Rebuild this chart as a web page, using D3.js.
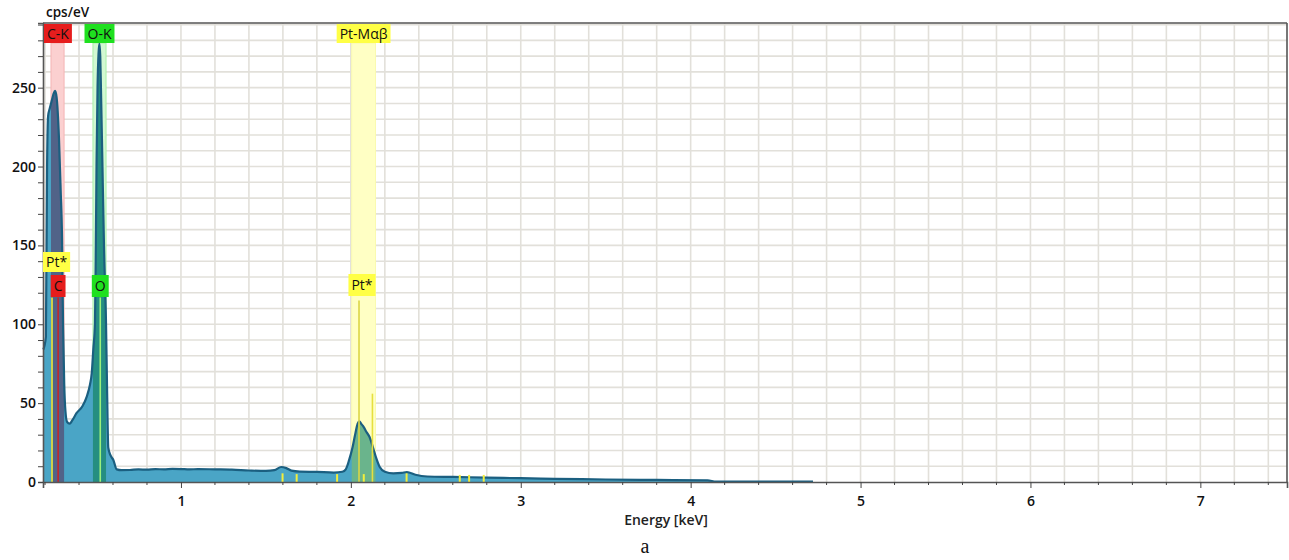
<!DOCTYPE html>
<html>
<head>
<meta charset="utf-8">
<script src="https://cdn.jsdelivr.net/npm/d3@7"></script>
<style>
  body { margin: 0; background: #fff; }
  svg { display: block; font-family: "Open Sans", sans-serif; }
</style>
</head>
<body>
<svg id="chart" width="1289" height="560"></svg>
<script>
// spectrum (keV, cps/eV)
var energy = [0.190, 0.205, 0.212, 0.218, 0.228, 0.240, 0.250, 0.259, 0.268, 0.282, 0.292, 0.300, 0.306, 0.313, 0.320, 0.330, 0.345, 0.360, 0.385, 0.420, 0.445, 0.465, 0.475, 0.484, 0.494, 0.499, 0.503, 0.509, 0.515, 0.520, 0.525, 0.529, 0.538, 0.547, 0.559, 0.565, 0.572, 0.585, 0.602, 0.622, 0.65, 0.70, 0.75, 0.80, 0.85, 0.90, 0.95, 1.00, 1.05, 1.10, 1.20, 1.30, 1.40, 1.50, 1.55, 1.59, 1.62, 1.65, 1.70, 1.80, 1.90, 1.95, 1.97, 1.99, 2.01, 2.025, 2.04, 2.05, 2.06, 2.075, 2.09, 2.11, 2.13, 2.15, 2.17, 2.20, 2.25, 2.30, 2.33, 2.38, 2.45, 2.60, 2.80, 3.00, 3.20, 3.50, 3.80, 4.10, 4.15, 4.72];
var counts = [84, 92, 200, 232, 237, 242, 246, 248, 244, 218, 185, 155, 100, 62, 45, 38, 37, 39, 43.6, 48, 54, 62, 69, 84, 101, 150, 200, 250, 272, 278, 270, 250, 200, 150, 100, 60, 22, 17, 14, 8, 7.5, 7.6, 8, 7.8, 8.2, 8, 8.3, 8.2, 8, 8.2, 8, 7.8, 7.3, 7.0, 7.5, 9.5, 8.8, 7.2, 6.6, 6.4, 6.0, 6.5, 8, 14, 22, 30, 37, 38.5, 37, 35, 32, 28.5, 22, 15, 9.5, 6.5, 5.5, 5.8, 6.3, 4.6, 3.5, 3.2, 2.8, 2.4, 2.0, 1.6, 1.3, 1.0, 0.3, 0.2];

// element regions (top labels)
var bandNames = ["C-K", "O-K", "Pt-Mαβ"];
var bandLo = [0.235, 0.482, 2.005];
var bandHi = [0.312, 0.559, 2.145];

// marker lines
var markerE = [0.241, 0.277, 0.525, 2.048, 2.127];
var markerH = [117, 117, 117, 115, 56];
var markerLabel = ["Pt*", "C", "O", "Pt*", ""];

// small Pt lines near the baseline
var minorE = [1.598, 1.681, 1.919, 2.076, 2.328, 2.641, 2.696, 2.782];
var minorH = [5.5, 5, 5, 5, 5.5, 4.5, 4.5, 4.5];

var xTicks = [1, 2, 3, 4, 5, 6, 7];
var yTicks = [0, 50, 100, 150, 200, 250];

var svg = d3.select("#chart");
var x = d3.scaleLinear().domain([0.188, 7.51]).range([43, 1287]);
var y = d3.scaleLinear().domain([0, 291]).range([482, 23]);

var bandFill = ["#fbd0d0", "#d2f8d2", "#ffffc4"];
var bandEdge = ["#f4b4b4", "#a8f0a8", "#fafab0"];
var bandTint = ["rgba(90,20,60,0.45)", "rgba(0,120,60,0.5)", "rgba(150,200,60,0.42)"];
var labelFill = { "C-K": "#e61d1d", "O-K": "#1fe01f", "Pt-Mαβ": "#ffff45", "C": "#e61d1d", "O": "#1fe01f", "Pt*": "#ffff45" };
var markerColor = ["#f0ec3a", "#c4262a", "#9cf07c", "#dcd545", "#e6df40"];

// grid
var gx = d3.range(0.2, 7.51, 0.2);
var gy = d3.range(10, 291, 10);
svg.append("g").selectAll("line").data(gx).join("line")
  .attr("x1", d => x(d)).attr("x2", d => x(d))
  .attr("y1", y(291)).attr("y2", y(0))
  .attr("stroke", "#e2e0da").attr("stroke-width", 1.6);
svg.append("g").selectAll("line").data(gy).join("line")
  .attr("x1", x.range()[0]).attr("x2", x.range()[1])
  .attr("y1", d => y(d)).attr("y2", d => y(d))
  .attr("stroke", "#e2e0da").attr("stroke-width", 1.6);

// bands behind the spectrum
var bandTop = 43;
var bands = svg.append("g");
bandLo.forEach(function(lo, i) {
  bands.append("rect")
    .attr("x", x(lo)).attr("y", bandTop)
    .attr("width", x(bandHi[i]) - x(lo)).attr("height", y(0) - bandTop)
    .attr("fill", bandFill[i]).attr("stroke", bandEdge[i]).attr("stroke-width", 1);
});

// spectrum
var spec = energy.map((e, i) => [e, counts[i]]);
var area = d3.area().x(d => x(d[0])).y0(y(0)).y1(d => y(d[1])).curve(d3.curveMonotoneX);
var line = d3.line().x(d => x(d[0])).y(d => y(d[1])).curve(d3.curveMonotoneX);

svg.append("clipPath").attr("id", "specClip")
  .append("path").attr("d", area(spec));

svg.append("path").attr("d", area(spec)).attr("fill", "#4aa5c6");

// tint of bands over the spectrum
var tint = svg.append("g").attr("clip-path", "url(#specClip)");
bandLo.forEach(function(lo, i) {
  tint.append("rect")
    .attr("x", x(lo)).attr("y", bandTop)
    .attr("width", x(bandHi[i]) - x(lo)).attr("height", y(0) - bandTop)
    .attr("fill", bandTint[i]);
});

svg.append("path").attr("d", line(spec))
  .attr("fill", "none").attr("stroke", "#1b5f80").attr("stroke-width", 2.2);

// marker lines
svg.append("g").selectAll("line").data(markerE).join("line")
  .attr("x1", d => x(d)).attr("x2", d => x(d))
  .attr("y1", (d, i) => y(markerH[i])).attr("y2", y(0))
  .attr("stroke", (d, i) => markerColor[i]).attr("stroke-width", 1.6);

svg.append("g").selectAll("line").data(minorE).join("line")
  .attr("x1", d => x(d)).attr("x2", d => x(d))
  .attr("y1", (d, i) => y(minorH[i])).attr("y2", y(0))
  .attr("stroke", "#f3ee3c").attr("stroke-width", 2);

// axes
var xAxis = d3.axisBottom(x).tickValues(xTicks).tickSize(6).tickFormat(d3.format("d"));
var gxa = svg.append("g").attr("transform", "translate(0," + y(0) + ")").call(xAxis);
gxa.append("g").selectAll("line").data(gx.filter(d => Math.abs(d - Math.round(d)) > 0.01)).join("line")
  .attr("x1", d => x(d)).attr("x2", d => x(d)).attr("y1", 0).attr("y2", 3)
  .attr("stroke", "#444");
var yAxis = d3.axisLeft(y).tickValues(d3.range(0, 291, 10)).tickSize(5)
  .tickFormat(d => yTicks.includes(d) ? d : "");
var gya = svg.append("g").attr("transform", "translate(" + x.range()[0] + ",0)").call(yAxis);
[gxa, gya].forEach(function(g) {
  g.select(".domain").attr("stroke", "#555").attr("stroke-width", 1.6);
  g.selectAll(".tick line").attr("stroke", "#444");
  g.selectAll(".tick text").attr("font-size", 14).attr("fill", "#111")
    .attr("font-family", "Open Sans, sans-serif").attr("font-weight", 600);
});
gxa.selectAll(".tick text").attr("dy", "1.05em");
gya.selectAll(".tick text").attr("x", -7);

// frame top and right
svg.append("line").attr("x1", x.range()[0]).attr("x2", x.range()[1])
  .attr("y1", y(291)).attr("y2", y(291)).attr("stroke", "#555").attr("stroke-width", 1.6);
svg.append("line").attr("x1", x.range()[1]).attr("x2", x.range()[1])
  .attr("y1", y(291)).attr("y2", y(0)).attr("stroke", "#555").attr("stroke-width", 1.6);

// label boxes
function labelBox(txt, cx, yTop, h, minLeft) {
  var g = svg.append("g");
  var t = g.append("text").text(txt).attr("font-size", 14)
    .attr("fill", "#111").attr("text-anchor", "middle");
  var w = t.node().getComputedTextLength() + 6;
  var left = Math.max(cx - w / 2, minLeft || 0);
  g.insert("rect", "text").attr("x", left).attr("y", yTop)
    .attr("width", w).attr("height", h).attr("fill", labelFill[txt]);
  t.attr("x", left + w / 2).attr("y", yTop + h / 2 + 5);
}
bandNames.forEach(function(n, i) {
  labelBox(n, x((bandLo[i] + bandHi[i]) / 2), 24, 19, 44);
});
// lower labels: Pt* at low energy stacks above C
labelBox(markerLabel[0], x(markerE[0]), 252, 20, 43);
labelBox(markerLabel[1], x(markerE[1]), 275, 22);
labelBox(markerLabel[2], x(markerE[2]), 275, 22);
labelBox(markerLabel[3], x(markerE[3]) + 3, 274, 22);

// titles
svg.append("text").text("cps/eV").attr("x", 46).attr("y", 17)
  .attr("font-size", 13.5).attr("font-weight", 600).attr("fill", "#111");
svg.append("text").text("Energy [keV]").attr("x", 666).attr("y", 525)
  .attr("text-anchor", "middle").attr("font-size", 14).attr("font-weight", 600).attr("fill", "#222");
svg.append("text").text("a").attr("x", 645).attr("y", 553)
  .attr("text-anchor", "middle").attr("font-size", 20)
  .attr("font-family", "Liberation Serif, serif").attr("fill", "#111");
</script>
</body>
</html>
